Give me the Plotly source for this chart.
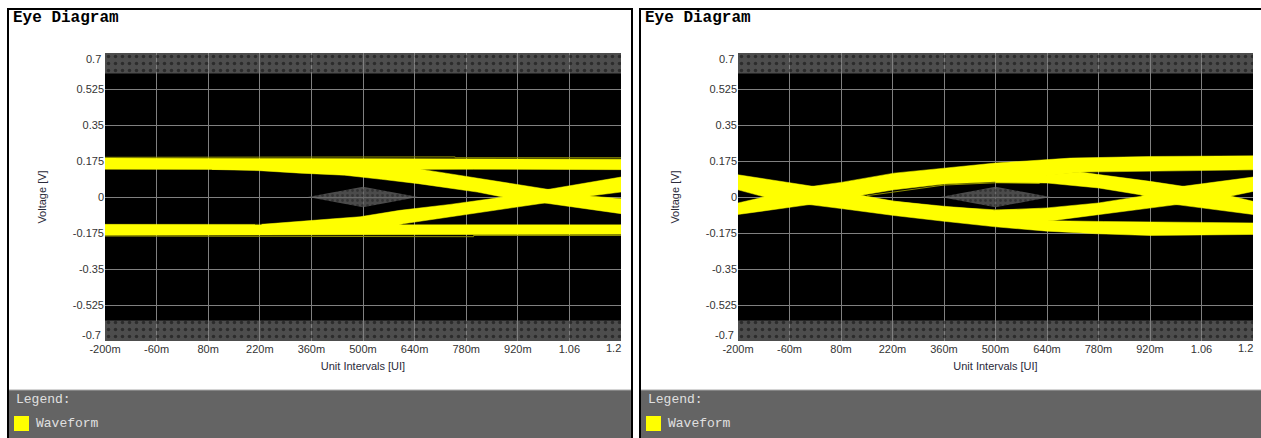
import plotly.graph_objects as go

W, H = 1261, 438

# ---------------- data ----------------
X_TICK_VALS = [-0.2, -0.06, 0.08, 0.22, 0.36, 0.5, 0.64, 0.78, 0.92, 1.06, 1.2]
X_TICK_TEXT = ["-200m", "-60m", "80m", "220m", "360m", "500m", "640m", "780m", "920m", "1.06", ""]
X_END_LABEL = ("1.2", 1.2)
Y_TICK_VALS = [-0.7, -0.525, -0.35, -0.175, 0, 0.175, 0.35, 0.525, 0.7]
Y_TICK_TEXT = ["", "-0.525", "-0.35", "-0.175", "0", "0.175", "0.35", "0.525", ""]
Y_END_LABELS = [("0.7", 0.7), ("-0.7", -0.7)]
X_RANGE = [-0.2, 1.2]
Y_RANGE = [-0.7, 0.7]

# mask (hatched) regions
MASK_TOP_X = [-0.2, 1.2, 1.2, -0.2]
MASK_TOP_Y = [0.6, 0.6, 0.7, 0.7]
MASK_BOT_X = [-0.2, 1.2, 1.2, -0.2]
MASK_BOT_Y = [-0.7, -0.7, -0.6, -0.6]

# eye mask diamond
DIAMOND_X = [0.35, 0.5, 0.65, 0.5, 0.35]
DIAMOND_Y = [0.0, 0.05, 0.0, -0.05, 0.0]

# left panel waveform bands
LEFT_TOP_RAIL_X = [-0.2, 0.3, 0.8, 1.2, 1.2, 0.8, 0.3, -0.2]
LEFT_TOP_RAIL_Y = [0.189, 0.187, 0.184, 0.184, 0.133, 0.135, 0.133, 0.135]
LEFT_BOT_RAIL_X = [-0.2, 0.3, 0.8, 1.2, 1.2, 0.8, 0.3, -0.2]
LEFT_BOT_RAIL_Y = [-0.133, -0.133, -0.134, -0.134, -0.181, -0.182, -0.184, -0.186]
LEFT_FALL_X = [0.09, 0.60, 0.664, 0.781, 0.889, 0.998, 1.115, 1.2, 1.2, 0.993, 0.871,
               0.81, 0.73, 0.65, 0.55, 0.45, 0.33, 0.22, 0.09]
LEFT_FALL_Y = [0.160, 0.160, 0.133, 0.100, 0.066, 0.036, 0.005, -0.008, -0.081, -0.029, 0.003,
               0.024, 0.046, 0.065, 0.086, 0.106, 0.116, 0.128, 0.134]
LEFT_RISE_X = [0.225, 0.293, 0.34, 0.419, 0.492, 0.60, 0.736, 0.871, 0.998, 1.2, 1.2,
               1.115, 0.993, 0.781, 0.609, 0.55, 0.225]
LEFT_RISE_Y = [-0.133, -0.125, -0.117, -0.106, -0.096, -0.065, -0.036, -0.003, 0.036, 0.097, 0.024,
               0.005, -0.029, -0.084, -0.130, -0.160, -0.160]
# faint outer traces (olive) in the left panel
LEFT_EDGE_TOP_X = [-0.2, 0.15, 0.15, 0.75, 0.75, 1.2]
LEFT_EDGE_TOP_Y = [0.193, 0.193, 0.195, 0.195, 0.191, 0.191]
LEFT_EDGE_BOT_X = [-0.2, 0.2, 0.2, 0.8, 0.8, 1.2]
LEFT_EDGE_BOT_Y = [-0.190, -0.190, -0.193, -0.193, -0.187, -0.187]

# right panel waveform bands
RIGHT_FALL0_X = [-0.2, 0.003, 0.143, 0.224, 0.360, 0.500, 0.653, 0.793, 1.2, 1.2, 0.920, 0.780,
                 0.640, 0.500, 0.360, 0.224, 0.080, -0.006, -0.128, -0.2]
RIGHT_FALL0_Y = [0.108, 0.052, 0.006, -0.021, -0.045, -0.065, -0.115, -0.119, -0.126, -0.182, -0.187, -0.179,
                 -0.166, -0.145, -0.118, -0.090, -0.056, -0.037, 0.0, 0.035]
RIGHT_RISE0_X = [-0.2, -0.006, 0.143, 0.224, 0.360, 0.500, 0.730, 1.2, 1.2, 0.920, 0.703, 0.640,
                 0.500, 0.360, 0.224, 0.080, 0.003, -0.128, -0.2]
RIGHT_RISE0_Y = [-0.085, -0.037, 0.011, 0.035, 0.063, 0.074, 0.121, 0.132, 0.200, 0.197, 0.189, 0.181,
                 0.165, 0.140, 0.116, 0.071, 0.052, 0.0, -0.029]
RIGHT_FALL1_X = [0.5, 0.730, 0.920, 1.010, 1.136, 1.2, 1.2, 0.992, 0.893, 0.780, 0.640, 0.5]
RIGHT_FALL1_Y = [0.084, 0.121, 0.076, 0.052, 0.006, -0.021, -0.085, -0.037, 0.011, 0.044, 0.068, 0.071]
RIGHT_RISE1_X = [0.5, 0.640, 0.780, 0.893, 1.010, 1.2, 1.2, 1.127, 0.992, 0.780, 0.653, 0.5]
RIGHT_RISE1_Y = [-0.065, -0.053, -0.029, 0.003, 0.052, 0.097, 0.027, 0.0, -0.037, -0.085, -0.115, -0.094]
# faint inner traces (olive) in the right panel eye
RIGHT_EDGE_UP_X = [0.15, 0.36, 0.50, 0.62]
RIGHT_EDGE_UP_Y = [0.006, 0.058, 0.069, 0.066]
RIGHT_EDGE_DN_X = [0.15, 0.36, 0.50, 0.62]
RIGHT_EDGE_DN_Y = [-0.004, -0.050, -0.062, -0.058]

TITLE = "Eye Diagram"
X_TITLE = "Unit Intervals [UI]"
Y_TITLE = "Voltage [V]"
LEGEND_HEADER = "Legend:"
SERIES_NAME = "Waveform"

# ---------------- styles ----------------
YELLOW = "#ffff00"
OLIVE = "#8c8c00"
GRID = "#808080"
MONO = "Courier New, Liberation Mono, monospace"
SANS = "Liberation Sans, Arial, sans-serif"
TICKFONT = dict(family=SANS, size=11, color="#333333")


def px(x):
    return x / W


def py(y):
    return 1 - y / H


panels = [
    dict(xa="x", ya="y", left=8, right=632, plot=(105, 621),
         bands=[(LEFT_TOP_RAIL_X, LEFT_TOP_RAIL_Y), (LEFT_BOT_RAIL_X, LEFT_BOT_RAIL_Y),
                (LEFT_FALL_X, LEFT_FALL_Y), (LEFT_RISE_X, LEFT_RISE_Y)],
         edges=[(LEFT_EDGE_TOP_X, LEFT_EDGE_TOP_Y), (LEFT_EDGE_BOT_X, LEFT_EDGE_BOT_Y)]),
    dict(xa="x2", ya="y2", left=640, right=1264, plot=(738, 1253),
         bands=[(RIGHT_FALL0_X, RIGHT_FALL0_Y), (RIGHT_RISE0_X, RIGHT_RISE0_Y),
                (RIGHT_FALL1_X, RIGHT_FALL1_Y), (RIGHT_RISE1_X, RIGHT_RISE1_Y)],
         edges=[(RIGHT_EDGE_UP_X, RIGHT_EDGE_UP_Y), (RIGHT_EDGE_DN_X, RIGHT_EDGE_DN_Y)]),
]

fig = go.Figure()
shapes = []
annotations = []
PLOT_TOP, PLOT_BOT = 53, 341

for i, p in enumerate(panels):
    xa, ya = p["xa"], p["ya"]
    # hatched mask regions
    for mx, my in [(MASK_TOP_X, MASK_TOP_Y), (MASK_BOT_X, MASK_BOT_Y)]:
        fig.add_trace(go.Scatter(
            x=mx, y=my, xaxis=xa, yaxis=ya, mode="lines", fill="toself",
            fillcolor="rgba(128,128,128,0.6)", line=dict(width=0),
            fillpattern=dict(shape=".", fgcolor="rgba(0,0,0,0.85)",
                             bgcolor="rgba(128,128,128,0.6)", size=7, solidity=0.2),
            hoverinfo="skip", showlegend=False))
    # eye mask diamond
    fig.add_trace(go.Scatter(
        x=DIAMOND_X, y=DIAMOND_Y, xaxis=xa, yaxis=ya, mode="lines", fill="toself",
        fillcolor="rgba(100,100,100,0.75)", line=dict(width=0),
        fillpattern=dict(shape=".", fgcolor="rgba(0,0,0,0.6)",
                         bgcolor="rgba(100,100,100,0.75)", size=5, solidity=0.25),
        hoverinfo="skip", showlegend=False))
    # faint olive traces
    for ex, ey in p["edges"]:
        fig.add_trace(go.Scatter(
            x=ex, y=ey, xaxis=xa, yaxis=ya, mode="lines",
            line=dict(color=OLIVE, width=1), hoverinfo="skip", showlegend=False))
    # waveform bands
    for bx, by in p["bands"]:
        fig.add_trace(go.Scatter(
            x=bx, y=by, xaxis=xa, yaxis=ya, mode="lines", fill="toself",
            fillcolor=YELLOW, line=dict(color=YELLOW, width=0.5),
            hoverinfo="skip", showlegend=False, name=SERIES_NAME))

    x0, x1 = p["plot"]
    sfx = "" if i == 0 else str(i + 1)
    fig.layout["xaxis" + sfx] = dict(
        domain=[px(x0), px(x1)], range=X_RANGE, anchor=ya, automargin=False,
        tickmode="array", tickvals=X_TICK_VALS, ticktext=X_TICK_TEXT,
        showgrid=True, gridcolor=GRID, gridwidth=1, zeroline=False, showline=False,
        ticks="", tickfont=TICKFONT,
        title=dict(text=X_TITLE, font=dict(family=SANS, size=11, color="#2a2a3a"), standoff=8),
        fixedrange=True)
    fig.layout["yaxis" + sfx] = dict(
        domain=[py(PLOT_BOT), py(PLOT_TOP)], range=Y_RANGE, anchor=xa, automargin=False,
        tickmode="array", tickvals=Y_TICK_VALS, ticktext=Y_TICK_TEXT,
        showgrid=True, gridcolor=GRID, gridwidth=1, zeroline=False, showline=False,
        ticks="", tickfont=TICKFONT,
        title=dict(text=Y_TITLE, font=dict(family=SANS, size=11, color="#2a2a3a"), standoff=23),
        fixedrange=True)
    for txt, val in Y_END_LABELS:
        annotations.append(dict(
            text=txt, xref="paper", yref=ya, x=px(x0 - 2), y=val, xanchor="right",
            yanchor="middle", yshift=-6 if val > 0 else 6, showarrow=False, font=TICKFONT))
    annotations.append(dict(
        text=X_END_LABEL[0], xref=xa, yref="paper", x=X_END_LABEL[1], y=py(348),
        xanchor="right", yanchor="middle", xshift=2, showarrow=False, font=TICKFONT))

    L, R = p["left"], p["right"]
    # legend band
    shapes.append(dict(type="rect", xref="paper", yref="paper", x0=px(L), x1=px(R),
                       y0=-0.05, y1=py(390), fillcolor="#646464", line=dict(width=0), layer="below"))
    shapes.append(dict(type="line", xref="paper", yref="paper", x0=px(L), x1=px(R),
                       y0=py(390), y1=py(390), line=dict(color="#a8a8a8", width=1)))
    # panel border
    shapes.append(dict(type="rect", xref="paper", yref="paper", x0=px(L), x1=px(R),
                       y0=-0.05, y1=py(9), line=dict(color="#000000", width=2), layer="above"))
    # legend swatch
    shapes.append(dict(type="rect", xref="paper", yref="paper", x0=px(L + 6), x1=px(L + 21),
                       y0=py(431), y1=py(416), fillcolor=YELLOW, line=dict(width=0)))
    annotations.append(dict(text="<b>" + TITLE + "</b>", xref="paper", yref="paper", x=px(L + 3), y=py(18),
                            xanchor="left", yanchor="middle", showarrow=False,
                            font=dict(family=MONO, size=16, color="#000000")))
    annotations.append(dict(text=LEGEND_HEADER, xref="paper", yref="paper", x=px(L + 6), y=py(399),
                            xanchor="left", yanchor="middle", showarrow=False,
                            font=dict(family=MONO, size=13, color="#e0e0e0")))
    annotations.append(dict(text=SERIES_NAME, xref="paper", yref="paper", x=px(L + 26), y=py(423),
                            xanchor="left", yanchor="middle", showarrow=False,
                            font=dict(family=MONO, size=13, color="#e0e0e0")))

fig.update_layout(
    width=W, height=H, autosize=False,
    margin=dict(l=0, r=0, t=0, b=0, pad=0, autoexpand=False),
    paper_bgcolor="#ffffff", plot_bgcolor="#000000",
    showlegend=False, shapes=shapes, annotations=annotations,
)

fig.write_html("out.html", config={"displayModeBar": False},
               post_script="document.body.style.margin='0';document.body.style.overflow='hidden';")
